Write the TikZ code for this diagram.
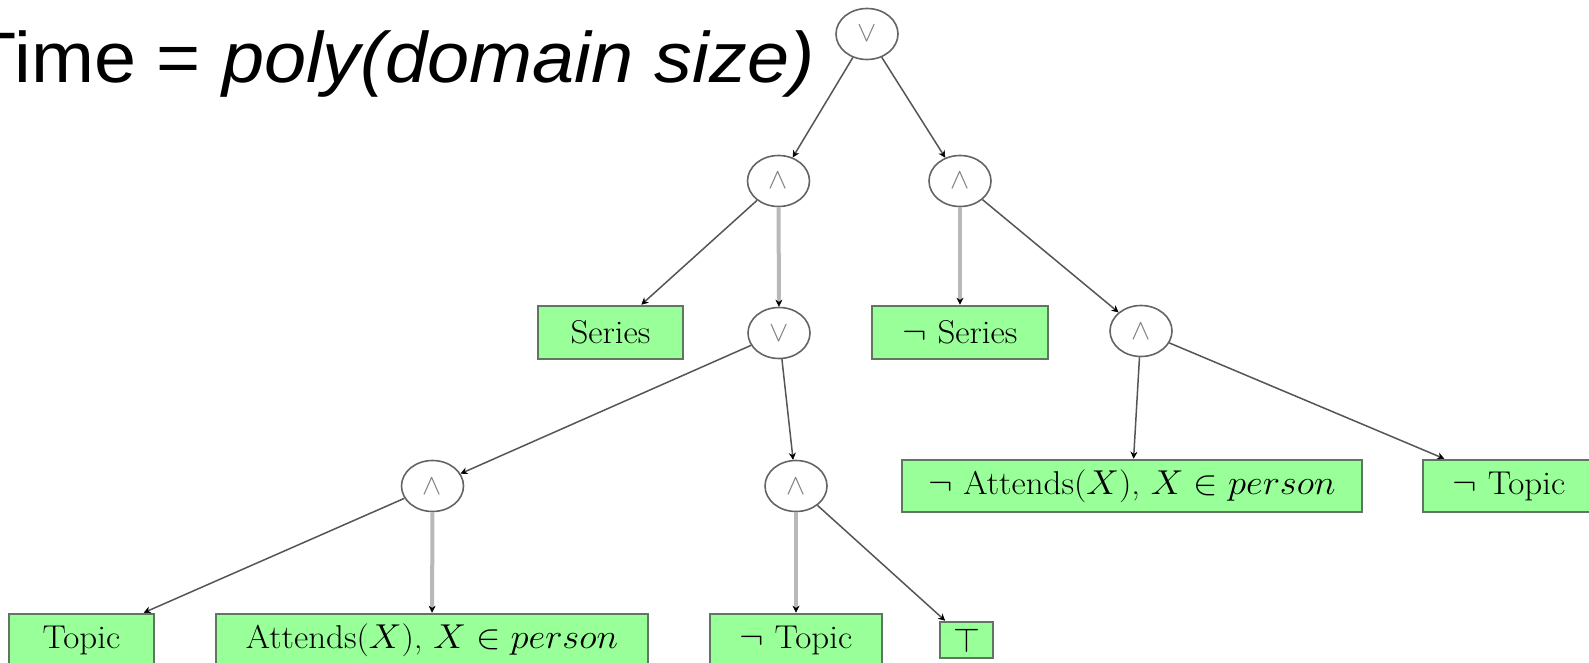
\documentclass[tikz,border=0pt]{standalone}
\usepackage{fontspec}
\newfontfamily\titlefont{Liberation Sans}
\usetikzlibrary{shapes.geometric,arrows.meta}
\definecolor{leaf}{RGB}{153,255,153}
\definecolor{leafedge}{RGB}{96,118,96}
\definecolor{opedge}{RGB}{100,100,100}
\definecolor{oplabel}{RGB}{128,128,128}
\definecolor{slimedge}{RGB}{85,85,85}
\definecolor{heavyedge}{RGB}{184,184,184}
% leaf labels are set slightly wide
\newcommand{\wlabel}[1]{\scalebox{1.06}[1]{#1}}
\begin{document}
\begin{tikzpicture}[x=0.5pt,y=-0.5pt,
  op/.style={ellipse, draw=opedge, line width=0.8pt, minimum width=31pt,
    minimum height=25.5pt, inner sep=0pt, text=oplabel,
    font=\fontsize{15}{15}\selectfont},
  leafbox/.style={rectangle, draw=leafedge, fill=leaf, line width=1.3pt,
    inner sep=0pt, font=\fontsize{16.5}{18}\selectfont},
  tip/.style={-{Stealth[length=3.5pt,width=3.5pt,line width=0.3pt,color=black]}},
  slim/.style={draw=slimedge, line width=0.75pt, tip},
  heavy/.style={draw=heavyedge, line width=2pt, tip}]
\useasboundingbox (0,0) rectangle (1589,663);
\clip (0,0) rectangle (1589,663);

% heading
\node[anchor=base west, inner sep=0pt,
  font=\titlefont\fontsize{35.75}{40}\selectfont] (title) at (-29.5,83)
  {\scalebox{1.057}[1]{Time = \textit{poly(domain size)}}};

% operator nodes
\node[op] (root)  at (867,34)    {$\vee$};
\node[op] (andL)  at (778.5,181) {$\wedge$};
\node[op] (andR)  at (960,181)   {$\wedge$};
\node[op] (orM)   at (779,333)   {$\vee$};
\node[op] (andRR) at (1141,331)  {$\wedge$};
\node[op] (andA)  at (432.5,486) {$\wedge$};
\node[op] (andB)  at (796,486)   {$\wedge$};

% literal leaves
\node[leafbox, minimum width=72.5pt, minimum height=26.5pt] (series)  at (610.5,332.5) {\wlabel{Series}};
\node[leafbox, minimum width=88pt,   minimum height=26.5pt] (nseries) at (960,332.5)   {\wlabel{$\neg$ Series}};
\node[leafbox, minimum width=230pt,  minimum height=26pt] (nattends) at (1132,486) {\wlabel{$\neg$ Attends($X$), $X \in person$}};
\node[leafbox, minimum width=86pt,   minimum height=26pt] (ntopicR)  at (1509,486) {\wlabel{$\neg$ Topic}};
\node[leafbox, minimum width=72.5pt, minimum height=26pt] (topic)    at (81.5,640) {\wlabel{Topic}};
\node[leafbox, minimum width=216pt,  minimum height=26pt] (attends)  at (432,640)  {\wlabel{Attends($X$), $X \in person$}};
\node[leafbox, minimum width=86pt,   minimum height=26pt] (ntopicB)  at (796,640)  {\wlabel{$\neg$ Topic}};
\node[leafbox, minimum width=26.5pt, minimum height=18pt] (top)      at (966.5,640) {$\top$};

% edges
\draw[slim]  (root)  -- (andL);
\draw[slim]  (root)  -- (andR);
\draw[slim]  (andL)  -- (series);
\draw[heavy] (andL)  -- (orM);
\draw[heavy] (andR)  -- (nseries);
\draw[slim]  (andR)  -- (andRR);
\draw[slim]  (orM)   -- (andA);
\draw[slim]  (orM)   -- (andB);
\draw[slim]  (andRR) -- (nattends);
\draw[slim]  (andRR) -- (ntopicR);
\draw[slim]  (andA)  -- (topic);
\draw[heavy] (andA)  -- (attends);
\draw[heavy] (andB)  -- (ntopicB);
\draw[slim]  (andB)  -- (top);
\end{tikzpicture}
\end{document}
